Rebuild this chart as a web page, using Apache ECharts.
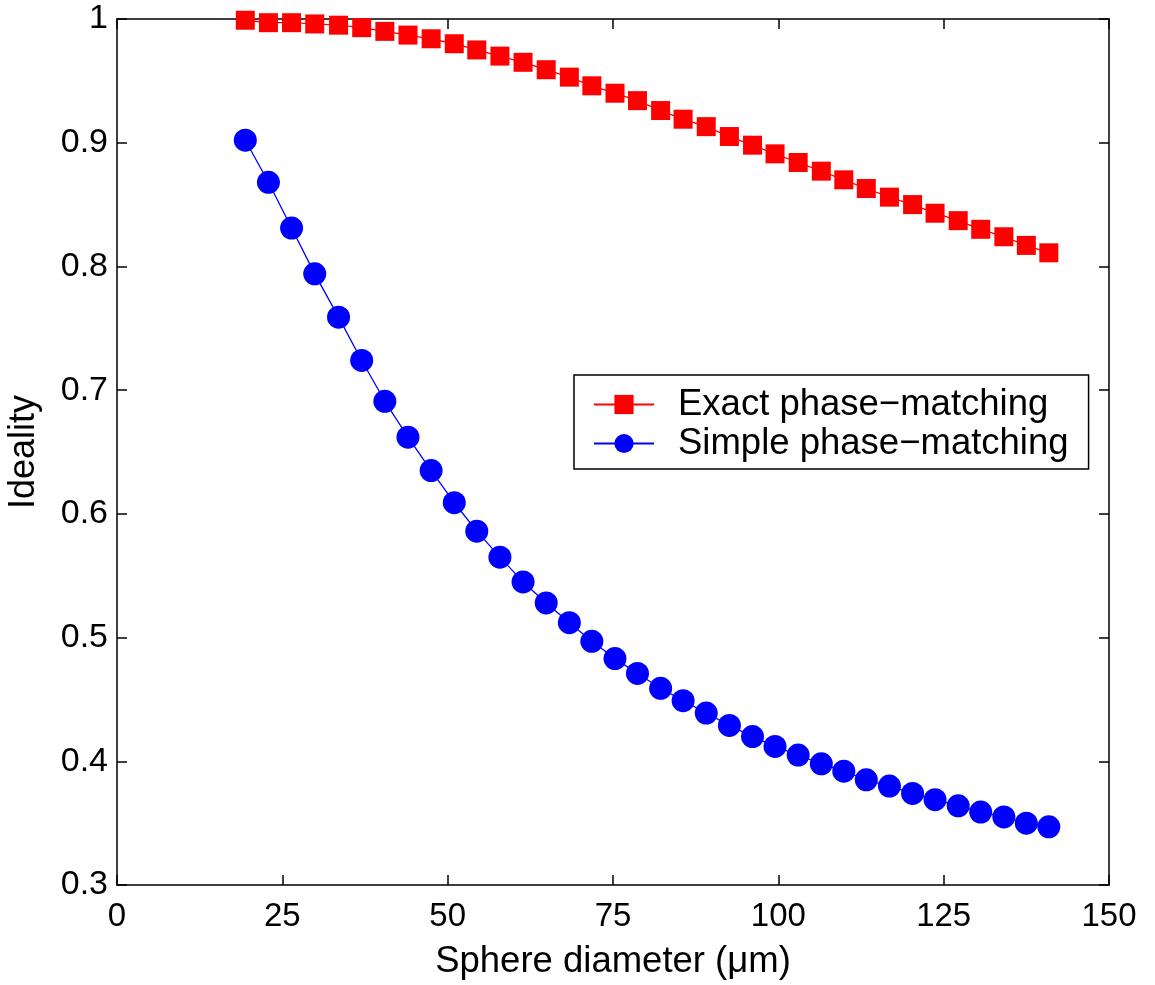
<!DOCTYPE html>
<html>
<head>
<meta charset="utf-8">
<script src="https://cdn.jsdelivr.net/npm/echarts@6/dist/echarts.min.js"></script>
<style>
  html, body { margin: 0; padding: 0; background: #fff; }
  #chart { width: 1155px; height: 985px; }
</style>
</head>
<body>
<div id="chart"></div>
<script>
// Sphere diameter (µm)
const diameters = [19.4, 22.9, 26.4, 29.9, 33.5, 37.0, 40.5, 44.0, 47.5, 51.0, 54.4, 57.9,
  61.4, 64.9, 68.4, 71.8, 75.3, 78.7, 82.2, 85.6, 89.1, 92.6, 96.1, 99.5,
  103.0, 106.5, 109.9, 113.3, 116.8, 120.3, 123.7, 127.2, 130.6, 134.1, 137.5, 140.9];
// Ideality, exact phase-matching
const exactValues = [0.999, 0.997, 0.997, 0.996, 0.995, 0.993, 0.990, 0.987, 0.984, 0.980, 0.975, 0.970,
  0.965, 0.959, 0.953, 0.946, 0.940, 0.934, 0.926, 0.919, 0.913, 0.905, 0.898, 0.891,
  0.884, 0.877, 0.870, 0.863, 0.856, 0.850, 0.843, 0.837, 0.830, 0.824, 0.817, 0.811];
// Ideality, simple phase-matching
const simpleValues = [0.902, 0.868, 0.831, 0.794, 0.759, 0.724, 0.691, 0.662, 0.635, 0.609, 0.586, 0.565,
  0.545, 0.528, 0.512, 0.497, 0.483, 0.471, 0.459, 0.449, 0.439, 0.429, 0.420, 0.412,
  0.405, 0.398, 0.392, 0.385, 0.380, 0.374, 0.369, 0.364, 0.359, 0.355, 0.350, 0.347];
const seriesNames = ['Exact phase\u2212matching', 'Simple phase\u2212matching'];
const xTicks = [0, 25, 50, 75, 100, 125, 150];
const yTicks = [0.3, 0.4, 0.5, 0.6, 0.7, 0.8, 0.9, 1];
const xTitle = 'Sphere diameter (\u03bcm)';
const yTitle = 'Ideality';

const FONT = '"Liberation Sans", Arial, Helvetica, sans-serif';
const chart = echarts.init(document.getElementById('chart'), null, { renderer: 'canvas' });

const pair = (xs, ys) => xs.map((x, i) => [x, ys[i]]);
const fmtY = v => {
  const r = Math.round(v * 10) / 10;
  return r === 1 ? '1' : r.toFixed(1);
};

const axisCommon = {
  axisLine: { show: true, onZero: false, lineStyle: { color: '#000', width: 1.5 } },
  axisTick: { show: true, inside: true, length: 10, lineStyle: { color: '#000', width: 1.5 } },
  splitLine: { show: false }
};

chart.setOption({
  backgroundColor: '#fff',
  animation: false,
  grid: { left: 117, right: 46, top: 19, bottom: 100, containLabel: false, outerBoundsMode: 'none' },
  xAxis: [
    Object.assign({
      type: 'value', position: 'bottom',
      min: xTicks[0], max: xTicks[xTicks.length - 1], interval: 25,
      name: xTitle, nameLocation: 'middle', nameGap: 58,
      nameTextStyle: { fontFamily: FONT, fontSize: 36.5, color: '#000' },
      axisLabel: { show: true, margin: 15, fontFamily: FONT, fontSize: 33, color: '#000' }
    }, axisCommon),
    Object.assign({
      type: 'value', position: 'top',
      min: xTicks[0], max: xTicks[xTicks.length - 1], interval: 25,
      axisLabel: { show: false }
    }, axisCommon)
  ],
  yAxis: [
    Object.assign({
      type: 'value', position: 'left',
      min: yTicks[0], max: yTicks[yTicks.length - 1], interval: 0.1,
      name: yTitle, nameLocation: 'middle', nameGap: 75, nameRotate: 90,
      nameTextStyle: { fontFamily: FONT, fontSize: 36, color: '#000' },
      axisLabel: { show: true, margin: 9, fontFamily: FONT, fontSize: 34, color: '#000', formatter: fmtY }
    }, axisCommon),
    Object.assign({
      type: 'value', position: 'right',
      min: yTicks[0], max: yTicks[yTicks.length - 1], interval: 0.1,
      axisLabel: { show: false }
    }, axisCommon)
  ],
  legend: {
    orient: 'vertical',
    left: 574, top: 375,
    padding: [11, 20, 7, 19],
    itemWidth: 60, itemHeight: 24, itemGap: 2,
    borderColor: '#000', borderWidth: 1.5, backgroundColor: '#fff',
    textStyle: { fontFamily: FONT, fontSize: 36.5, color: '#000', lineHeight: 37, padding: [0, 0, 0, 19] },
    data: seriesNames
  },
  series: [
    {
      name: seriesNames[0], type: 'line', xAxisIndex: 0, yAxisIndex: 0,
      data: pair(diameters, exactValues),
      symbol: 'rect', symbolSize: 19, clip: false,
      lineStyle: { color: '#ff0000', width: 1.3 },
      itemStyle: { color: '#ff0000' }
    },
    {
      name: seriesNames[1], type: 'line', xAxisIndex: 0, yAxisIndex: 0,
      data: pair(diameters, simpleValues),
      symbol: 'circle', symbolSize: 23, clip: false,
      lineStyle: { color: '#0000ff', width: 1.3 },
      itemStyle: { color: '#0000ff' }
    }
  ]
});
</script>
</body>
</html>
